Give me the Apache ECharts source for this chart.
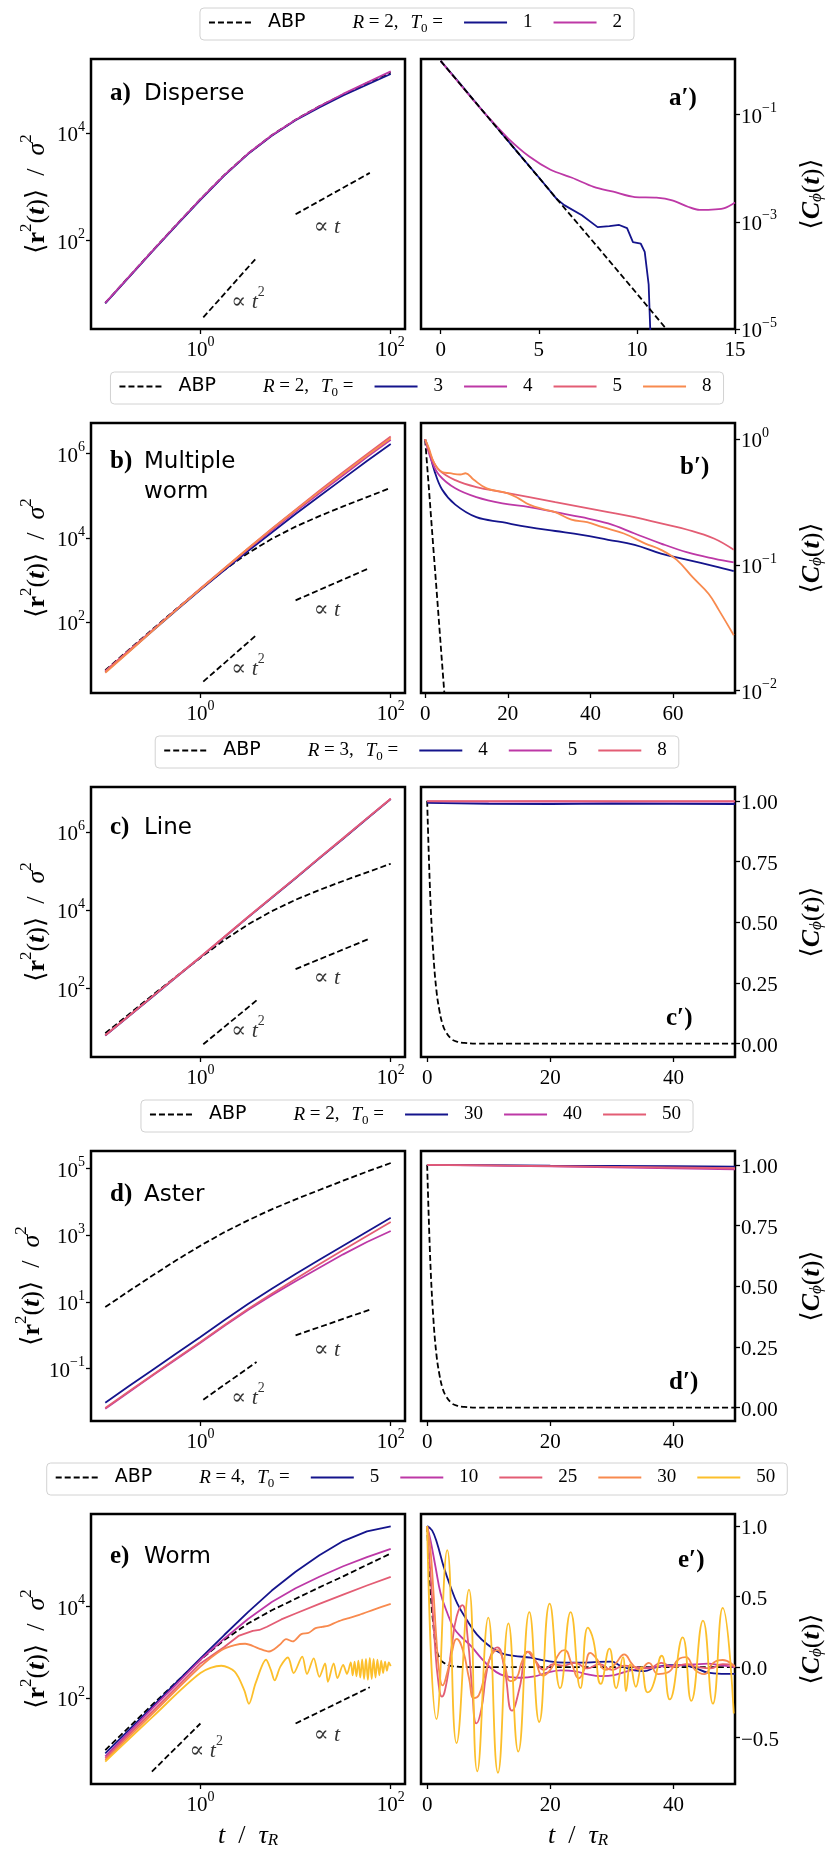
<!DOCTYPE html>
<html lang="en">
<head>
<meta charset="UTF-8">
<script src="https://cdn.jsdelivr.net/npm/echarts@6/dist/echarts.min.js"></script>
<style>
  html, body { margin: 0; padding: 0; background: #fff; }
  #chart { width: 830px; height: 1853px; }
</style>
</head>
<body>
<div id="chart"></div>
<script>
// ---- data (log axes hold log10 values) ----
var lgT = [-1, -0.75, -0.5, -0.25, 0, 0.25, 0.5, 0.75, 1, 1.25, 1.5, 1.75, 2];

// a) Disperse
var aAbp = [0.84, 1.33, 1.82, 2.30, 2.77, 3.22, 3.62, 3.96, 4.25, 4.50, 4.72, 4.93, 5.13];
var aT1 = [0.83, 1.32, 1.81, 2.29, 2.76, 3.21, 3.61, 3.95, 4.24, 4.48, 4.70, 4.90, 5.10];
var aT2 = [0.84, 1.33, 1.82, 2.30, 2.77, 3.22, 3.62, 3.96, 4.25, 4.50, 4.73, 4.94, 5.15];
// b) Multiple worm
var bAbp = [0.86, 1.35, 1.84, 2.32, 2.79, 3.24, 3.64, 3.98, 4.27, 4.52, 4.75, 4.97, 5.19];
var bT3 = [0.82, 1.31, 1.80, 2.29, 2.77, 3.23, 3.69, 4.13, 4.57, 4.99, 5.41, 5.83, 6.23];
var bT4 = [0.84, 1.33, 1.82, 2.31, 2.79, 3.26, 3.73, 4.18, 4.63, 5.06, 5.49, 5.92, 6.33];
var bT5 = [0.84, 1.33, 1.82, 2.31, 2.80, 3.28, 3.75, 4.22, 4.67, 5.12, 5.56, 5.99, 6.41];
var bT8 = [0.80, 1.30, 1.80, 2.30, 2.79, 3.27, 3.75, 4.21, 4.66, 5.10, 5.53, 5.96, 6.37];
// c) Line
var cAbp = [0.86, 1.35, 1.84, 2.32, 2.79, 3.24, 3.64, 3.98, 4.27, 4.52, 4.75, 4.97, 5.19];
var cT4 = [0.80, 1.30, 1.80, 2.30, 2.80, 3.31, 3.82, 4.32, 4.82, 5.33, 5.83, 6.34, 6.84];
var cT5 = [0.81, 1.31, 1.81, 2.31, 2.81, 3.32, 3.83, 4.33, 4.83, 5.34, 5.84, 6.35, 6.85];
var cT8 = [0.81, 1.31, 1.81, 2.31, 2.81, 3.32, 3.83, 4.33, 4.83, 5.34, 5.84, 6.35, 6.85];
// d) Aster
var dAbp = [0.85, 1.33, 1.80, 2.26, 2.69, 3.09, 3.45, 3.78, 4.08, 4.36, 4.64, 4.91, 5.17];
var dT30 = [-2.02, -1.52, -1.03, -0.54, -0.05, 0.45, 0.94, 1.40, 1.84, 2.27, 2.69, 3.11, 3.53];
var dT40 = [-2.20, -1.70, -1.20, -0.71, -0.22, 0.28, 0.76, 1.20, 1.62, 2.03, 2.43, 2.80, 3.13];
var dT50 = [-2.18, -1.68, -1.18, -0.69, -0.20, 0.30, 0.79, 1.25, 1.69, 2.13, 2.56, 2.98, 3.40];
// e) Worm
var eAbp = [0.87, 1.37, 1.87, 2.36, 2.84, 3.27, 3.63, 3.92, 4.17, 4.42, 4.66, 4.91, 5.16];
var eT5 = [0.80, 1.31, 1.83, 2.35, 2.87, 3.38, 3.88, 4.35, 4.76, 5.12, 5.43, 5.64, 5.75];
var eT10 = [0.73, 1.26, 1.79, 2.31, 2.84, 3.30, 3.73, 4.10, 4.40, 4.65, 4.88, 5.08, 5.26];
var eT25LgT = [-1, -0.75, -0.5, -0.25, 0, 0.25, 0.4, 0.55, 0.62, 0.7, 0.85, 1, 1.25, 1.5, 1.75, 2];
var eT25 = [0.69, 1.21, 1.72, 2.24, 2.76, 3.12, 3.36, 3.47, 3.49, 3.56, 3.72, 3.85, 4.06, 4.26, 4.46, 4.65];
var eT30LgT = [-1, -0.5, 0, 0.22, 0.36, 0.47, 0.61, 0.72, 0.83, 0.9, 0.97, 1.06, 1.14, 1.21, 1.28, 1.34, 1.44, 1.56, 1.67, 1.83, 2];
var eT30 = [0.65, 1.67, 2.69, 3.05, 3.16, 3.19, 3.09, 3.02, 3.16, 3.29, 3.24, 3.40, 3.43, 3.53, 3.56, 3.58, 3.67, 3.75, 3.82, 3.94, 4.06];
var eT50LgT = [-1, -0.5, 0, 0.22, 0.36, 0.46, 0.51, 0.58, 0.69, 0.74, 0.78, 0.84, 0.92, 0.98, 1.07, 1.12, 1.19, 1.25, 1.31, 1.34, 1.4, 1.44, 1.5, 1.54,
  1.58, 1.6, 1.62, 1.64, 1.66, 1.68, 1.7, 1.72, 1.74, 1.76, 1.78, 1.8, 1.82, 1.84, 1.86, 1.88, 1.9, 1.92, 1.94, 1.96, 1.98, 2.0];
var eT50 = [0.62, 1.60, 2.55, 2.71, 2.58, 2.18, 1.88, 2.33, 2.84, 2.62, 2.39, 2.69, 2.89, 2.55, 2.91, 2.53, 2.87, 2.47, 2.76, 2.36, 2.76, 2.44, 2.73, 2.53,
  2.78, 2.50, 2.80, 2.48, 2.82, 2.45, 2.85, 2.42, 2.86, 2.40, 2.88, 2.42, 2.86, 2.45, 2.84, 2.50, 2.82, 2.55, 2.80, 2.60, 2.78, 2.70];

// slope guides and their labels
var guideSqT = [0.03, 0.59];
var guideLinT = [1.0, 1.78];
var eGuideSqT = [-0.51, 0.0];
var guideSq = [[0.57, 1.68], [0.59, 1.70], [0.58, 1.70], [-1.93, -0.80], [0.40, 1.45]];
var guideLin = [[2.49, 3.26], [2.52, 3.29], [2.50, 3.28], [0.0, 0.77], [1.45, 2.24]];
var noteSqAt = [[0.5, 0.91], [0.5, 0.96], [0.5, 0.98], [0.5, -1.8], [0.06, 0.91]];
var noteLinAt = [[1.33, 2.30], [1.33, 2.35], [1.33, 2.34], [1.33, -0.35], [1.33, 1.27]];

// a') log10 C
var aPAbpT = [0, 2, 4, 6, 8, 10, 11.5];
var aPAbp = [0, -0.87, -1.74, -2.61, -3.47, -4.34, -5.0];
var aPT1t = [0, 1, 2, 3, 4, 5, 5.9, 6.3, 7.2, 8.0, 8.6, 9.1, 9.5, 9.8, 10.2, 10.4, 10.6, 10.7];
var aPT1 = [0, -0.43, -0.87, -1.3, -1.74, -2.17, -2.57, -2.69, -2.88, -3.10, -3.08, -3.06, -3.12, -3.38, -3.41, -3.56, -4.17, -5.2];
var aPT2t = [0, 1, 1.8, 2.6, 3.45, 4.5, 5.6, 6.7, 7.8, 8.8, 9.9, 11.0, 11.8, 12.6, 13.2, 14.0, 14.5, 15.0];
var aPT2 = [0, -0.44, -0.79, -1.12, -1.45, -1.78, -2.03, -2.18, -2.35, -2.44, -2.54, -2.55, -2.60, -2.72, -2.78, -2.77, -2.74, -2.64];
// b') log10 C
var bPAbpT = [0, 1, 2, 3, 4, 5];
var bPAbp = [0, -0.43, -0.87, -1.3, -1.74, -2.17];
var bPT3t = [0, 0.9, 2.2, 4.1, 7.3, 12.4, 18.7, 25.1, 31.5, 37.9, 44.3, 50.7, 57.1, 63.5, 69.9, 74.7];
var bPT3 = [0, -0.085, -0.245, -0.40, -0.52, -0.62, -0.66, -0.70, -0.73, -0.76, -0.80, -0.84, -0.91, -0.96, -1.01, -1.05];
var bPT45t = [0, 1.5, 3.4, 7.3, 12.4, 18.7, 25.2, 31.5, 37.9, 44.3, 50.7, 57.1, 63.5, 69.9, 74.7];
var bPT4 = [0, -0.165, -0.285, -0.39, -0.46, -0.51, -0.54, -0.58, -0.62, -0.67, -0.75, -0.83, -0.90, -0.95, -0.98];
var bPT5 = [0, -0.14, -0.245, -0.325, -0.38, -0.42, -0.46, -0.50, -0.54, -0.58, -0.62, -0.67, -0.72, -0.79, -0.88];
var bPT8t = [0, 0.9, 2.2, 4.1, 6, 8.5, 9.8, 11.7, 14.9, 20, 22.6, 25.2, 29, 31.5, 35.4, 39.2, 43, 48.1, 53.3, 57.1, 60.9, 64.8, 68.6, 71.1, 74.7];
var bPT8 = [0, -0.07, -0.19, -0.26, -0.27, -0.28, -0.27, -0.32, -0.39, -0.43, -0.47, -0.52, -0.56, -0.58, -0.64, -0.66, -0.70, -0.75, -0.83, -0.88, -0.96, -1.10, -1.23, -1.36, -1.56];
// c') d') C
var abpDecayT = [0, 0.5, 1, 1.5, 2, 2.5, 3, 4, 5, 6, 8, 10, 20, 30, 40, 50];
var abpDecay = [1, 0.61, 0.37, 0.22, 0.135, 0.08, 0.05, 0.018, 0.007, 0.003, 0, 0, 0, 0, 0, 0];
var flatT = [0, 10, 20, 30, 40, 50];
var cPT4 = [0.992, 0.988, 0.987, 0.989, 0.988, 0.987];
var cPT5 = [0.998, 0.997, 0.998, 0.997, 0.997, 0.997];
var cPT8 = [0.999, 0.999, 0.999, 0.999, 0.999, 0.999];
var dPT30 = [1.0, 0.999, 0.997, 0.996, 0.995, 0.993];
var dPT40 = [1.0, 0.997, 0.994, 0.990, 0.986, 0.981];
var dPT50 = [1.0, 0.998, 0.995, 0.992, 0.989, 0.986];
// e') C
var ePAbpT = [0, 0.4, 1, 1.6, 2.2, 2.7, 3.5, 4.3, 6, 10, 20, 30, 40, 50];
var ePAbp = [1, 0.64, 0.30, 0.11, 0.05, 0.03, 0.012, 0.005, 0, 0, 0, 0, 0, 0];
var ePT5t = [0, 0.8, 1.6, 2.7, 3.8, 4.9, 6.5, 8.1, 9.8, 11.9, 14.1, 16.8, 19.5, 22.3, 25, 27.7, 29.9, 31.5, 33.7, 35.3, 36.9, 39.1, 41.3, 43.4, 45.6, 47.8, 50];
var ePT5 = [1.0, 0.97, 0.88, 0.71, 0.57, 0.45, 0.33, 0.23, 0.16, 0.10, 0.079, 0.067, 0.043, 0.031, 0.031, 0.036, 0.038, 0.007, -0.024, -0.029, -0.005, 0.014, 0.014, -0.005, -0.04, -0.048, -0.048];
var ePT10t = [0, 0.54, 1.36, 2.2, 3.3, 4.3, 5.4, 7.1, 8.7, 10.3, 11.9, 13.6, 15.2, 17.4, 19.5, 21.7, 23.9, 26.1, 28.2, 30.4, 32.6, 34.7, 36.9, 39.1, 41.3, 43.4, 45.6, 47.8, 50];
var ePT10 = [1.0, 0.9, 0.71, 0.52, 0.38, 0.28, 0.22, 0.15, 0.067, -0.005, -0.052, -0.071, -0.076, -0.067, -0.04, -0.024, -0.029, -0.052, -0.064, -0.057, -0.029, -0.01, 0, 0.007, 0.014, 0.019, 0.024, 0.012, 0];
var ePT25t = [0, 0.6, 1.2, 1.8, 2.4, 3.2, 4.0, 4.8, 5.7, 6.6, 7.3, 8.0, 8.8, 9.6, 10.5, 11.4, 12.5, 13.8, 15.0, 16.3, 17.5, 19, 20.5, 22, 24, 26, 28, 30, 32, 34, 36, 38, 40, 42, 44, 46, 48, 50];
var ePT25 = [1.0, 0.62, 0.2, -0.1, -0.21, -0.1, 0.15, 0.36, 0.44, 0.2, -0.15, -0.40, -0.3, -0.05, 0.1, 0.14, 0.0, -0.31, -0.15, 0.11, 0.05, -0.02, 0.02, 0.01, 0.03, -0.01, 0.02, -0.02, 0.01, 0.0, -0.01, 0.03, 0.0, 0.02, 0.0, -0.01, 0.02, 0.01];
var ePT30t = [0, 0.5, 1, 1.5, 2, 2.5, 3.2, 4, 4.8, 5.8, 6.8, 7.6, 8.4, 9.4, 10.4, 11.4, 12.5, 13.5, 14.5, 15.5, 16.5, 17.5, 18.8, 20, 21.5, 22.3, 23.5, 24.6, 25.5, 26.5, 27.5, 29, 30.5, 32, 33.3, 34.5, 36, 37.5, 39, 41, 42, 43.5, 45, 46.5, 48, 50];
var ePT30 = [1.0, 0.85, 0.55, 0.2, -0.05, -0.13, -0.05, 0.1, 0.2, 0.12, -0.08, -0.22, -0.2, -0.05, 0.08, 0.12, 0.03, -0.1, -0.08, 0.05, 0.11, 0.05, -0.06, -0.02, 0.1, 0.12, 0.02, -0.08, -0.02, 0.1, 0.06, -0.02, 0.02, 0.09, 0.02, -0.02, 0.03, -0.05, -0.04, 0.06, 0.07, -0.02, -0.05, 0.03, 0.05, 0.0];
var ePT50t = [0, 1.52, 3.26, 4.78, 6.79, 8.14, 9.93, 11.5, 13.2, 14.8, 16.6, 18.2, 19.9, 21.6, 23.3, 24.9, 26.1, 27.0, 28.2, 29.6, 30.7, 31.8, 32.3, 33.0, 33.9, 34.8, 35.8, 36.6, 38.1, 39.4, 41.5, 42.9, 44.8, 46.4, 48.0, 49.8];
var ePT50 = [1.0, -0.37, 0.83, -0.54, 0.55, -0.74, 0.35, -0.75, 0.31, -0.60, 0.39, -0.39, 0.45, -0.15, 0.39, -0.15, 0.28, 0.19, -0.12, 0.13, -0.15, 0.07, -0.17, 0.02, -0.14, 0.0, -0.18, -0.14, 0.08, -0.23, 0.21, -0.24, 0.33, -0.26, 0.42, -0.33];

// legend entries and axis ticks
var legendR = [2, 2, 3, 2, 4];
var legendTau = [['1', '2'], ['3', '4', '5', '8'], ['4', '5', '8'], ['30', '40', '50'], ['5', '10', '25', '30', '50']];
var msdMin = [0.355, 0.32, 0.255, -2.57, 0.13];
var msdMax = [5.38, 6.73, 7.15, 5.53, 6.02];
var msdTicks = [[2, 4], [2, 4, 6], [2, 4, 6], [-1, 1, 3, 5], [2, 4]];
var corrMin = [-5, -2.02, -0.055, -0.055, -0.83];
var corrMax = [0.035, 0.13, 1.057, 1.057, 1.086];
var corrTicks = [[-5, -3, -1], [-2, -1, 0], [0, 0.25, 0.5, 0.75, 1], [0, 0.25, 0.5, 0.75, 1], [-0.5, 0, 0.5, 1]];
var tMax = [15, 75, 50, 50, 50];
var tTicks = [[0, 5, 10, 15], [0, 20, 40, 60], [0, 20, 40], [0, 20, 40], [0, 20, 40]];

// ---- look ----
var serif = "'Liberation Serif', 'DejaVu Serif', serif";
var sans = "'DejaVu Sans', sans-serif";
var navy = '#14148c', magenta = '#bd38a6', pink = '#e35d74', orange = '#f88a4e', gold = '#fcbf2b';
var rowTop = [59, 423, 787, 1151, 1514];
var legendTop = [8, 372, 736, 1100, 1463];
var tagTop = [74, 442, 808, 1175, 1537];
var primeLeft = [664, 675, 661, 664, 673];
var primeTop = [79, 448, 999, 1363, 1541];
var tags = ['a', 'b', 'c', 'd', 'e'];
var names = ['Disperse', 'Multiple', 'Line', 'Aster', 'Worm'];

function zip(xs, ys) {
  return xs.map(function (x, i) { return [x, ys[i]]; });
}
function minus(v) { return v < 0 ? '\u2212' + (-v) : String(v); }

var tickRich = {
  b: { fontFamily: serif, fontSize: 21, color: '#000', lineHeight: 26, verticalAlign: 'bottom' },
  s: { fontFamily: serif, fontSize: 14, color: '#000', lineHeight: 14, verticalAlign: 'top' }
};
var nameRich = {
  r: { fontFamily: serif, fontSize: 26, fontWeight: 'normal', color: '#000', lineHeight: 32, verticalAlign: 'bottom' },
  bb: { fontFamily: serif, fontSize: 26, fontWeight: 'bold', color: '#000', lineHeight: 32, verticalAlign: 'bottom' },
  bi: { fontFamily: serif, fontSize: 26, fontWeight: 'bold', fontStyle: 'italic', color: '#000', lineHeight: 32, verticalAlign: 'bottom' },
  i: { fontFamily: serif, fontSize: 26, fontWeight: 'normal', fontStyle: 'italic', color: '#000', lineHeight: 32, verticalAlign: 'bottom' },
  s: { fontFamily: serif, fontSize: 17, fontWeight: 'normal', color: '#000', lineHeight: 17, verticalAlign: 'top' },
  sub: { fontFamily: serif, fontSize: 17, fontWeight: 'normal', fontStyle: 'italic', color: '#000', lineHeight: 15, verticalAlign: 'bottom' }
};
var noteRich = {
  r: { fontFamily: serif, fontSize: 22, color: '#000', lineHeight: 28, verticalAlign: 'bottom' },
  i: { fontFamily: serif, fontSize: 22, fontStyle: 'italic', color: '#000', lineHeight: 28, verticalAlign: 'bottom' },
  s: { fontFamily: serif, fontSize: 14, color: '#000', lineHeight: 14, verticalAlign: 'top' }
};
var tickStyle = { length: 5, lineStyle: { color: '#000', width: 1.3 } };

var grids = [], xAxes = [], yAxes = [], series = [], legends = [], titles = [];

function addLine(name, g, xs, ys, color, dashed, smooth) {
  series.push({
    type: 'line', name: name, xAxisIndex: g, yAxisIndex: g,
    data: zip(xs, ys), symbol: 'none', silent: true,
    smooth: smooth || false,
    lineStyle: { color: color, width: 1.8, type: dashed ? [6, 3] : 'solid' },
    itemStyle: { color: color }
  });
}
function addNote(g, at, text) {
  series.push({
    type: 'scatter', xAxisIndex: g, yAxisIndex: g, data: [at], symbolSize: 1, silent: true,
    itemStyle: { color: 'rgba(0,0,0,0)' },
    label: { show: true, position: 'inside', formatter: text, rich: noteRich, color: '#000' }
  });
}
function axisBase(extra) {
  var a = {
    type: 'value', axisLine: { show: false, onZero: false }, splitLine: { show: false }
  };
  for (var k in extra) a[k] = extra[k];
  return a;
}

for (var r = 0; r < 5; r++) {
  var gl = 2 * r, gr = 2 * r + 1;
  [91, 421].forEach(function (left) {
    grids.push({ left: left, top: rowTop[r], width: 314, height: 270, show: true,
      borderColor: '#000', borderWidth: 2.5, backgroundColor: 'transparent' });
  });
  var last = r === 4;
  var xName = last ? '{i|t}{r|  /  }{i|\u03c4}{sub|R}' : '';
  // left: time on log axis
  xAxes.push(axisBase({
    gridIndex: gl, min: -1.15, max: 2.15,
    axisTick: Object.assign({ customValues: [0, 2] }, tickStyle),
    axisLabel: { customValues: [0, 2], margin: 6, rich: tickRich,
      formatter: function (v) { return '{b|10}{s|' + minus(Math.round(v)) + '}'; } },
    name: xName, nameLocation: 'middle', nameGap: 33, nameTextStyle: { rich: nameRich }
  }));
  // right: linear time
  xAxes.push(axisBase({
    gridIndex: gr, min: -1, max: tMax[r],
    axisTick: Object.assign({ customValues: tTicks[r] }, tickStyle),
    axisLabel: { customValues: tTicks[r], margin: 6, rich: tickRich,
      formatter: function (v) { return '{b|' + v + '}'; } },
    name: xName, nameLocation: 'middle', nameGap: 33, nameTextStyle: { rich: nameRich }
  }));
  yAxes.push(axisBase({
    gridIndex: gl, position: 'left', min: msdMin[r], max: msdMax[r],
    axisTick: Object.assign({ customValues: msdTicks[r] }, tickStyle),
    axisLabel: { customValues: msdTicks[r], margin: 6, rich: tickRich,
      formatter: function (v) { return '{b|10}{s|' + minus(Math.round(v)) + '}'; } },
    name: '{r|\u27e8}{bb|r}{s|2}{r|(}{bi|t}{r|)\u27e9  /  }{i|\u03c3}{s|2}',
    nameLocation: 'middle', nameGap: 41, nameTextStyle: { rich: nameRich }
  }));
  (function (row) {
    var isLog = row < 2;
    yAxes.push(axisBase({
      gridIndex: gr, position: 'right', min: corrMin[row], max: corrMax[row],
      axisTick: Object.assign({ customValues: corrTicks[row] }, tickStyle),
      axisLabel: { customValues: corrTicks[row], margin: 6, rich: tickRich,
        formatter: function (v) {
          if (isLog) return '{b|10}{s|' + minus(Math.round(v)) + '}';
          var d = row === 4 ? 1 : 2;
          var s = Math.abs(v).toFixed(d);
          return '{b|' + (v < 0 ? '\u2212' : '') + s + '}';
        } },
      name: '{r|\u27e8}{bi|C}{sub|\u03d5}{r|(}{bi|t}{r|)\u27e9}',
      nameLocation: 'middle', nameGap: 58, nameTextStyle: { rich: nameRich }
    }));
  })(r);

  // slope guides
  var sqT = r === 4 ? eGuideSqT : guideSqT;
  addLine('', gl, sqT, guideSq[r], '#000', true);
  addLine('', gl, guideLinT, guideLin[r], '#000', true);
  addNote(gl, noteSqAt[r], '{r|\u221d }{i|t}{s|2}');
  addNote(gl, noteLinAt[r], '{r|\u221d }{i|t}');

  titles.push({
    left: 105, top: tagTop[r],
    text: r === 1 ? '{l|b)}{w|Multiple}\n{l|}{w|worm}' : '{l|' + tags[r] + ')}{w|' + names[r] + '}',
    textStyle: { fontWeight: 'normal', rich: {
      l: { fontFamily: serif, fontWeight: 'bold', fontSize: 25, color: '#000', width: 34, lineHeight: 30 },
      w: { fontFamily: sans, fontWeight: 'normal', fontSize: 23, color: '#000', lineHeight: 30 }
    } }
  });
  titles.push({
    left: primeLeft[r], top: primeTop[r], text: '{l|' + tags[r] + '\u2032)}',
    textStyle: { rich: { l: { fontFamily: serif, fontWeight: 'bold', fontSize: 25, color: '#000', lineHeight: 30 } } }
  });

  var legendNames = [tags[r] + 'ABP'].concat(legendTau[r].map(function (k) { return tags[r] + k; }));
  legends.push({
    top: legendTop[r], left: 'center', orient: 'horizontal', data: legendNames,
    selectedMode: false, itemWidth: 43, itemHeight: 14, itemGap: 20,
    itemStyle: { opacity: 0 },
    padding: [5, 12, 5, 8], borderColor: '#d2d2d2', borderWidth: 1, borderRadius: 4,
    backgroundColor: '#fff',
    formatter: (function (row) {
      return function (name) {
        var key = name.slice(1);
        if (key === 'ABP') {
          return '{p|}{sa|ABP}{g|}{mi|R}{m| = ' + legendR[row] + ',}{g2|}{mi|T}{sub|0}{m| =}';
        }
        return '{p|}{m|' + key + '}';
      };
    })(r),
    textStyle: { color: '#000', rich: {
      p: { width: 11, lineHeight: 25 },
      g: { width: 47, lineHeight: 25 },
      g2: { width: 12, lineHeight: 25 },
      sa: { fontFamily: sans, fontSize: 19, color: '#000', lineHeight: 25 },
      m: { fontFamily: serif, fontSize: 19, color: '#000', lineHeight: 25 },
      mi: { fontFamily: serif, fontSize: 19, fontStyle: 'italic', color: '#000', lineHeight: 25 },
      sub: { fontFamily: serif, fontSize: 13, color: '#000', lineHeight: 14, verticalAlign: 'bottom' }
    } }
  });
}

// ---- curves ----
// a
addLine('aABP', 0, lgT, aAbp, '#000', true);
addLine('a1', 0, lgT, aT1, navy, false);
addLine('a2', 0, lgT, aT2, magenta, false);
addLine('a1', 1, aPT1t, aPT1, navy, false);
addLine('a2', 1, aPT2t, aPT2, magenta, false, 0.3);
addLine('aABP', 1, aPAbpT, aPAbp, '#000', true);
// b
addLine('bABP', 2, lgT, bAbp, '#000', true);
addLine('b3', 2, lgT, bT3, navy, false);
addLine('b4', 2, lgT, bT4, magenta, false);
addLine('b5', 2, lgT, bT5, pink, false);
addLine('b8', 2, lgT, bT8, orange, false);
addLine('bABP', 3, bPAbpT, bPAbp, '#000', true);
addLine('b3', 3, bPT3t, bPT3, navy, false, 0.4);
addLine('b4', 3, bPT45t, bPT4, magenta, false, 0.4);
addLine('b5', 3, bPT45t, bPT5, pink, false, 0.4);
addLine('b8', 3, bPT8t, bPT8, orange, false, 0.4);
// c
addLine('cABP', 4, lgT, cAbp, '#000', true);
addLine('c4', 4, lgT, cT4, navy, false);
addLine('c5', 4, lgT, cT5, magenta, false);
addLine('c8', 4, lgT, cT8, pink, false);
addLine('cABP', 5, abpDecayT, abpDecay, '#000', true, 0.4);
addLine('c4', 5, flatT, cPT4, navy, false);
addLine('c5', 5, flatT, cPT5, magenta, false);
addLine('c8', 5, flatT, cPT8, pink, false);
// d
addLine('dABP', 6, lgT, dAbp, '#000', true);
addLine('d30', 6, lgT, dT30, navy, false);
addLine('d40', 6, lgT, dT40, magenta, false);
addLine('d50', 6, lgT, dT50, pink, false);
addLine('dABP', 7, abpDecayT, abpDecay, '#000', true, 0.4);
addLine('d30', 7, flatT, dPT30, navy, false);
addLine('d40', 7, flatT, dPT40, magenta, false);
addLine('d50', 7, flatT, dPT50, pink, false);
// e
addLine('eABP', 8, lgT, eAbp, '#000', true);
addLine('e5', 8, lgT, eT5, navy, false);
addLine('e10', 8, lgT, eT10, magenta, false);
addLine('e25', 8, eT25LgT, eT25, pink, false);
addLine('e30', 8, eT30LgT, eT30, orange, false, 0.3);
addLine('e50', 8, eT50LgT, eT50, gold, false, 0.3);
addLine('eABP', 9, ePAbpT, ePAbp, '#000', true, 0.4);
addLine('e5', 9, ePT5t, ePT5, navy, false, 0.4);
addLine('e10', 9, ePT10t, ePT10, magenta, false, 0.4);
addLine('e25', 9, ePT25t, ePT25, pink, false, 0.5);
addLine('e30', 9, ePT30t, ePT30, orange, false, 0.5);
addLine('e50', 9, ePT50t, ePT50, gold, false, 0.5);

var chart = echarts.init(document.getElementById('chart'));
chart.setOption({
  animation: false,
  backgroundColor: '#fff',
  textStyle: { fontFamily: serif },
  title: titles,
  legend: legends,
  grid: grids,
  xAxis: xAxes,
  yAxis: yAxes,
  series: series
});
</script>
</body>
</html>
